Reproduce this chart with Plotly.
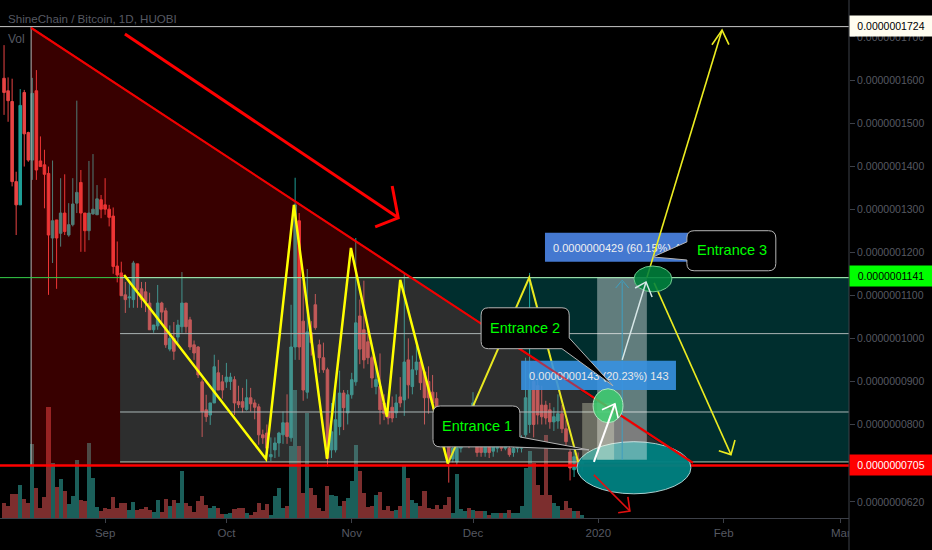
import pandas as pd
import plotly.graph_objects as go

# prices are in units of 0.0000000001 BTC, x positions are days from 2020-01-01
dates = pd.date_range("2019-08-07", periods=144, freq="D")
days = [(d - pd.Timestamp("2020-01-01")).days for d in dates]

opens = [1604, 1575, 1550, 1364, 1310, 1571, 1478, 1414, 1575, 1412, 1403, 1383, 1233, 1275, 1244, 1291,
         1240, 1264, 1314, 1362, 1291, 1250, 1289, 1287, 1322, 1310, 1300, 1284, 1168, 1152, 1101, 1094,
         1090, 1173, 1115, 1108, 1082, 1020, 1029, 1082, 1064, 975, 1000, 1003, 1027, 1082, 1043, 985,
         980, 899, 834, 822, 850, 920, 899, 899, 900, 904, 853, 853, 835, 862, 850, 841, 776, 780,
         725, 741, 757, 776, 804, 769, 980, 1273, 1040, 875, 1013, 1078, 985, 955, 927, 741, 741, 795,
         873, 827, 869, 899, 1052, 1020, 992, 955, 888, 888, 850, 830, 840, 827, 864, 857, 950, 888,
         927, 945, 922, 900, 875, 860, 815, 790, 760, 720, 713, 745, 760, 775, 800, 760, 755, 735,
         750, 738, 745, 752, 745, 745, 735, 745, 745, 776, 800, 900, 890, 845, 845, 834, 806, 808,
         825, 790, 736, 695, 720, 705]
highs = [1681, 1606, 1603, 1387, 1579, 1577, 1480, 1605, 1623, 1469, 1438, 1399, 1413, 1275, 1372, 1381,
         1314, 1372, 1552, 1391, 1291, 1412, 1428, 1356, 1333, 1372, 1310, 1304, 1225, 1178, 1131, 1131,
         1180, 1173, 1131, 1131, 1106, 1031, 1124, 1085, 1071, 1030, 1038, 1043, 1154, 1082, 1050, 995,
         982, 905, 869, 850, 962, 950, 915, 943, 920, 912, 890, 885, 905, 885, 858, 848, 788, 800,
         770, 770, 783, 830, 870, 1078, 1373, 1291, 1130, 1161, 1040, 1103, 997, 990, 932, 850, 884, 925,
         880, 880, 920, 1233, 1090, 1134, 1025, 960, 935, 965, 870, 845, 865, 870, 910, 1152, 1000, 960,
         990, 960, 925, 935, 915, 875, 820, 800, 790, 770, 790, 800, 835, 790, 875, 770, 765, 765,
         762, 762, 756, 757, 758, 760, 755, 765, 775, 955, 1152, 925, 925, 890, 855, 850, 840, 870,
         845, 810, 750, 740, 735, 716]
lows = [1519, 1503, 1353, 1240, 1310, 1399, 1410, 1368, 1368, 1399, 1302, 1101, 1175, 1115, 1213, 1240,
        1236, 1260, 1291, 1201, 1201, 1228, 1287, 1287, 1279, 1287, 1260, 1150, 1130, 1099, 1059, 1071,
        1071, 1071, 1071, 1061, 1020, 1013, 1020, 1031, 978, 970, 950, 990, 1013, 1013, 973, 950,
        908, 771, 806, 799, 850, 880, 860, 885, 880, 822, 838, 828, 832, 830, 812, 753, 755, 735,
        715, 722, 725, 755, 755, 760, 950, 950, 855, 860, 960, 1020, 920, 920, 702, 722, 735, 775,
        787, 800, 860, 890, 940, 930, 940, 885, 870, 800, 810, 800, 805, 815, 840, 820, 860, 870,
        915, 880, 800, 825, 835, 800, 770, 735, 665, 712, 705, 735, 750, 745, 790, 725, 725, 725,
        722, 725, 735, 738, 740, 725, 725, 735, 735, 770, 780, 770, 800, 800, 800, 790, 785, 790,
        780, 745, 670, 678, 690, 690]
closes = [1571, 1552, 1364, 1310, 1541, 1475, 1414, 1569, 1391, 1399, 1381, 1240, 1273, 1233, 1291, 1248,
          1264, 1312, 1339, 1291, 1250, 1291, 1300, 1324, 1300, 1300, 1281, 1167, 1147, 1099, 1090, 1096,
          1175, 1113, 1090, 1085, 1020, 1031, 1082, 1061, 985, 1000, 970, 1031, 1082, 1027, 980, 966,
          915, 830, 818, 850, 934, 880, 880, 910, 910, 850, 846, 840, 862, 848, 840, 776, 769, 745,
          730, 757, 780, 804, 772, 980, 1310, 980, 880, 1015, 990, 1025, 955, 927, 722, 783, 811, 873,
          839, 869, 904, 1036, 975, 950, 955, 908, 904, 834, 825, 815, 815, 850, 850, 945, 892, 927,
          945, 897, 862, 862, 850, 835, 790, 760, 720, 745, 752, 770, 780, 760, 850, 735, 735, 755,
          735, 755, 750, 745, 752, 730, 745, 755, 760, 862, 880, 800, 822, 818, 815, 806, 818, 825,
          790, 760, 699, 725, 700, 712]
volumes = [45, 35, 72, 72, 98, 58, 45, 223, 90, 30, 62, 333, 165, 93, 118, 82,
           42, 65, 173, 55, 50, 225, 120, 33, 20, 30, 28, 62, 30, 45, 45, 25,
           48, 25, 28, 33, 25, 17, 55, 18, 58, 35, 55, 45, 140, 45, 35, 18,
           50, 65, 40, 30, 35, 30, 12, 12, 15, 28, 30, 30, 15, 8, 18, 45, 23, 42,
           10, 65, 90, 30, 35, 215, 385, 215, 75, 315, 90, 70, 30, 20, 97, 70, 65, 35,
           50, 60, 112, 220, 140, 75, 32, 35, 70, 78, 25, 35, 20, 23, 35, 155, 120, 55,
           45, 35, 80, 30, 27, 40, 27, 40, 63, 15, 133, 27, 20, 30, 25, 20, 20, 20,
           8, 15, 15, 15, 15, 25, 15, 15, 35, 150, 200, 165, 100, 70, 250, 70, 45, 37,
           25, 50, 30, 20, 20, 10]

price_ticks = [1700, 1600, 1500, 1400, 1300, 1200, 1100, 1000, 900, 800, 620]
price_tick_labels = ["0.0000001700", "0.0000001600", "0.0000001500", "0.0000001400", "0.0000001300",
                     "0.0000001200", "0.0000001100", "0.0000001000", "0.0000000900", "0.0000000800",
                     "0.0000000620"]
month_ticks = ["2019-09-01", "2019-10-01", "2019-11-01", "2019-12-01", "2020-01-01", "2020-02-01", "2020-03-01"]
month_labels = ["Sep", "Oct", "Nov", "Dec", "2020", "Feb", "Mar"]

# drawing tools on the chart (day, price)
zigzag_days = [-117.3, -82.2, -75.3, -67.1, -61.2, -52.3, -49.0, -37.2]
zigzag_prices = [1147, 720, 1310, 720, 1210, 818, 1136, 709]
thin_days = [-37.2, -17.1, -5.0]
thin_prices = [709, 1141, 713]
top_price, upper_price, level_1, level_2, low_line, red_price = 1724, 1141, 1011, 829, 713, 705

RED = "#ff0000"
YELLOW = "#ffff00"
TEXT_GREY = "#565962"
AXIS_GREY = "#3d4048"


def line_path(xs, ys):
    return "M" + " L".join(f"{x},{y}" for x, y in zip(xs, ys))


def line(xs, ys, color, width):
    return dict(type="path", path=line_path(xs, ys), line=dict(color=color, width=width), layer="above")


def box(x0, x1, y0, y1, fill, **kw):
    return dict(type="rect", x0=x0, x1=x1, y0=y0, y1=y1, fillcolor=fill, line=dict(width=0), layer="above", **kw)


def oval(x0, x1, y0, y1, fill, edge):
    return dict(type="circle", x0=x0, x1=x1, y0=y0, y1=y1, fillcolor=fill,
                line=dict(color=edge, width=1), layer="above")


def callout(x0, x1, y0, y1, tail):
    # rounded box with its pointer leaving from the right side / bottom right
    rx, ry = 1.8, 17
    p = f"M{x0 + rx},{y1} L{x1 - rx},{y1} Q{x1},{y1} {x1},{y1 - ry} L{tail[0][0]},{tail[0][1]} "
    p += f"L{tail[1][0]},{tail[1][1]} L{tail[2][0]},{tail[2][1]} "
    p += f"L{x0 + rx},{y0} Q{x0},{y0} {x0},{y0 + ry} L{x0},{y1 - ry} Q{x0},{y1} {x0 + rx},{y1} Z"
    return dict(type="path", path=p, fillcolor="#000000", line=dict(color="#b5b5b5", width=1), layer="above")


def callout_left(x0, x1, y0, y1, tail):
    rx, ry = 1.8, 17
    p = f"M{x0 + rx},{y1} L{x1 - rx},{y1} Q{x1},{y1} {x1},{y1 - ry} L{x1},{y0 + ry} Q{x1},{y0} {x1 - rx},{y0} "
    p += f"L{x0 + rx},{y0} Q{x0},{y0} {x0},{y0 + ry} L{tail[2][0]},{tail[2][1]} "
    p += f"L{tail[1][0]},{tail[1][1]} L{tail[0][0]},{tail[0][1]} L{x0},{y1 - ry} Q{x0},{y1} {x0 + rx},{y1} Z"
    return dict(type="path", path=p, fillcolor="#000000", line=dict(color="#b5b5b5", width=1), layer="above")


shapes = [
    # red triangle and the teal fib box, they mix to grey where they overlap
    dict(type="path", path=line_path([-140.3, -140.3, 23.4], [1724, 705, 705]) + " Z",
         fillcolor="rgba(255,0,0,0.22)", line=dict(width=0), layer="above"),
    box(-118.3, 62, low_line, upper_price, "rgba(0,255,255,0.18)"),
    line([-148, 62], [top_price, top_price], "#c8c8c8", 1),
    line([-140.3, -140.3], [top_price, red_price], "#b4b4b4", 1),
    line([-148, 62], [upper_price, upper_price], "#35d04a", 1),
    line([-118.3, 62], [upper_price, upper_price], "#a8e0b8", 1),
    line([-118.3, 62], [level_1, level_1], "#aab4b4", 1),
    line([-118.3, 62], [level_2, level_2], "#aab8b8", 1),
    line([-118.3, 62], [low_line, low_line], "#b8c8b8", 1),
    line([-148, 62], [red_price, red_price], RED, 2.5),
    oval(-5.3, 22.9, 760, 639, "rgba(0,128,128,0.96)", "#a8d0d0"),
    box(-0.3, 12.0, 718, upper_price, "rgba(255,255,255,0.38)"),
    box(-4.0, 3.9, 718, 850, "rgba(255,255,220,0.3)"),
    line([5.9, 5.9], [718, 1131], "#3f9fc0", 1),
    line([4.3, 5.9, 7.5], [1117, 1135, 1117], "#3f9fc0", 1),
    line([-140.3, 23.4], [1721, 711], RED, 2),
    line([-117.1, -49.5], [1707, 1280], RED, 3),
    line([-51.0, -49.5, -55.2], [1354, 1280, 1259], RED, 3),
    line(zigzag_days, zigzag_prices, YELLOW, 2.5),
    line(thin_days, thin_prices, "#e8e820", 2),
    # blue measure labels
    box(-13.2, 22.2, 1178, 1245, "#4478d0",
        label=dict(text="0.0000000429 (60.15%) 429", textposition="middle left", padding=5,
                   font=dict(family="Liberation Sans", size=11, color="#f0f0f0"))),
    box(-19.1, 19.2, 880, 948, "rgba(55,145,225,0.9)",
        label=dict(text="0.0000000143 (20.23%) 143", textposition="middle left", padding=5,
                   font=dict(family="Liberation Sans", size=11, color="#e8e8e8"))),
    line([12.0, 30.6], [1141, 1716], "#ecec20", 1.6),
    line([28.1, 30.6, 32.3], [1682, 1716, 1682], "#ecec20", 1.6),
    line([13.8, 32.8], [1129, 730], "#ecec20", 1.6),
    line([29.8, 32.8, 33.8], [739, 730, 764], "#ecec20", 1.6),
    line([-1.1, 7.8], [683, 599], "#e01010", 1.6),
    line([7.3, 7.8, 4.9], [632, 599, 595], "#e01010", 1.6),
    line([-140.3, 23.4], [1721, 711], "rgba(230,0,0,0.6)", 2),
    oval(-1.3, 6.1, 883, 804, "rgba(60,205,110,0.85)", "#b0e8c0"),
    oval(8.8, 18.2, 1168, 1108, "rgba(0,130,60,0.88)", "#70c890"),
    line([-1.1, 4.1], [713, 848], "#ffffff", 2),
    line([0.9, 4.1, 4.9], [834, 848, 815], "#ffffff", 1.6),
    line([5.9, 11.8], [950, 1131], "#d8e8e8", 1.5),
    line([9.1, 11.8, 13.3], [1117, 1131, 1096], "#d8e8e8", 1.5),
    callout(-40.9, -19.4, 748, 843, [(-19.4, 771), (-2.3, 741), (-21.8, 748)]),
    callout(-29.0, -7.2, 976, 1071, [(-7.2, 1001), (3.6, 890), (-9.0, 976)]),
    callout_left(21.9, 43.9, 1157, 1250, [(21.9, 1224), (13.5, 1189), (21.9, 1182)]),
    # cover the clipped Mar label, price axis keeps its own column
    dict(type="rect", xref="paper", yref="paper", x0=1, x1=932 / 849, y0=-32 / 518, y1=0,
         fillcolor="#000000", line=dict(width=0), layer="above"),
    dict(type="line", xref="paper", yref="paper", x0=1, x1=1, y0=-32 / 518, y1=1,
         line=dict(color=AXIS_GREY, width=1), layer="above"),
]


def entrance(text, x, y):
    return dict(x=x, y=y, text=text, showarrow=False, font=dict(family="Liberation Sans", size=14.5, color="#00ff00"))


def price_tag(text, y, bg, fg):
    return dict(xref="paper", x=1, xanchor="left", y=y, text=text, showarrow=False, width=82, height=20,
                bgcolor=bg, font=dict(family="Liberation Sans", size=10.5, color=fg), borderpad=0)


annotations = [
    entrance("Entrance 1", -30.1, 797),
    entrance("Entrance 2", -18.1, 1024),
    entrance("Entrance 3", 33, 1205),
    price_tag("0.0000001724", top_price + 1, "#fffdf0", "#000000"),
    price_tag("0.0000001141", upper_price + 3, "#00ff00", "#000000"),
    price_tag("0.0000000705", red_price, "#ff0000", "#ffffff"),
    dict(xref="paper", yref="paper", x=6 / 849, xanchor="left", yanchor="middle", y=1 - 18 / 518,
         text="ShineChain / Bitcoin, 1D, HUOBI", showarrow=False,
         font=dict(family="Liberation Sans", size=11.6, color=TEXT_GREY)),
    dict(xref="paper", yref="paper", x=6 / 849, xanchor="left", yanchor="middle", y=1 - 39 / 518, text="Vol",
         showarrow=False, font=dict(family="Liberation Sans", size=12, color=TEXT_GREY)),
]

vol_colors = ["#1b5f5a" if c >= o else "#7c2e2e" for o, c in zip(opens, closes)]

fig = go.Figure()
fig.add_trace(go.Bar(x=days, y=volumes, marker=dict(color=vol_colors, line=dict(width=0)), width=1.0,
                     yaxis="y2", showlegend=False))
fig.add_trace(go.Candlestick(x=days, open=opens, high=highs, low=lows, close=closes, whiskerwidth=0,
                             increasing=dict(line=dict(color="#1f9e96", width=1), fillcolor="#1f9e96"),
                             decreasing=dict(line=dict(color="#e84444", width=1), fillcolor="#e84444"),
                             showlegend=False))

tick_days = [(pd.Timestamp(t) - pd.Timestamp("2020-01-01")).days for t in month_ticks]
fig.update_layout(
    width=932, height=550,
    margin=dict(l=0, r=83, t=0, b=32),
    paper_bgcolor="#000000", plot_bgcolor="#000000",
    shapes=shapes, annotations=annotations,
    xaxis=dict(range=[-148.0, 62.0], tickvals=tick_days, ticktext=month_labels, showgrid=False, zeroline=False,
               rangeslider=dict(visible=False), ticks="outside", ticklen=4, tickcolor=AXIS_GREY,
               showline=True, linecolor=AXIS_GREY, tickfont=dict(family="Liberation Sans", size=11.5, color=TEXT_GREY)),
    yaxis=dict(range=[582.8, 1785.8], side="right", tickvals=price_ticks, ticktext=price_tick_labels, showgrid=False,
               zeroline=False, ticks="outside", ticklen=5, tickcolor=AXIS_GREY,
               tickfont=dict(family="Liberation Sans", size=10.5, color=TEXT_GREY)),
    yaxis2=dict(range=[0, 1554], overlaying="y", visible=False),
    bargap=0,
    boxgap=0.1,
)

fig.write_html("out.html", config={"displayModeBar": False}, post_script="document.body.style.margin='0';")
